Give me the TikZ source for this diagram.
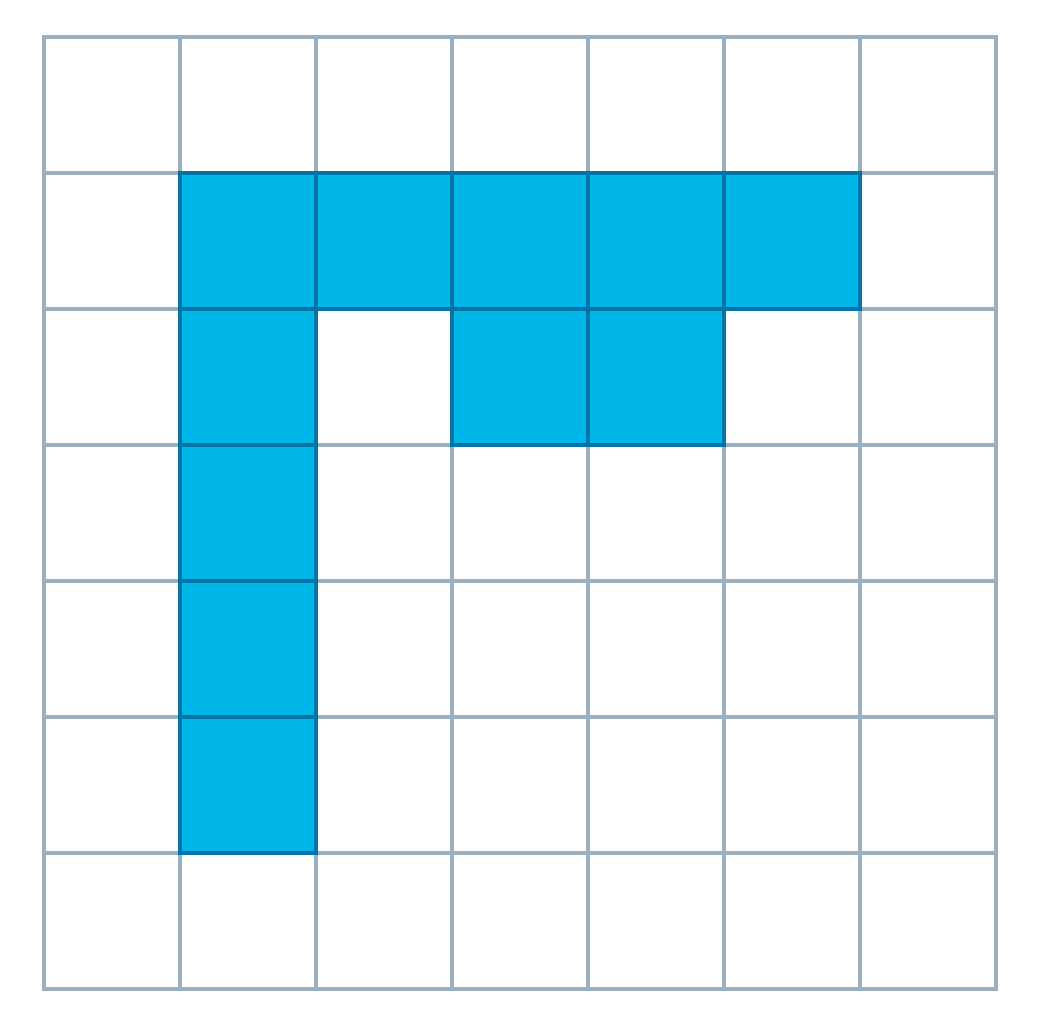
\documentclass[tikz,border=0pt]{standalone}
\definecolor{gridc}{RGB}{152,176,192}
\definecolor{fillc}{RGB}{0,182,232}
\definecolor{edgec}{RGB}{0,116,166}
\tikzset{
  gridline/.style={draw=gridc, line width=2.3pt, line cap=rect},
  cell/.style={fill=fillc, draw=edgec, line width=2.3pt}
}
\begin{document}
\begin{tikzpicture}[x=0.02cm,y=-0.02cm]
\useasboundingbox (0,0) rectangle (1041,1018);
\foreach \i in {0,...,7} {
  \draw[gridline] (44+136*\i,37) -- (44+136*\i,989);
  \draw[gridline] (44,37+136*\i) -- (996,37+136*\i);
}
\foreach \c/\r in {1/1,2/1,3/1,4/1,5/1,1/2,3/2,4/2,1/3,1/4,1/5} {
  \draw[cell] (44+136*\c,37+136*\r) rectangle ++(136,136);
}
\end{tikzpicture}
\end{document}
